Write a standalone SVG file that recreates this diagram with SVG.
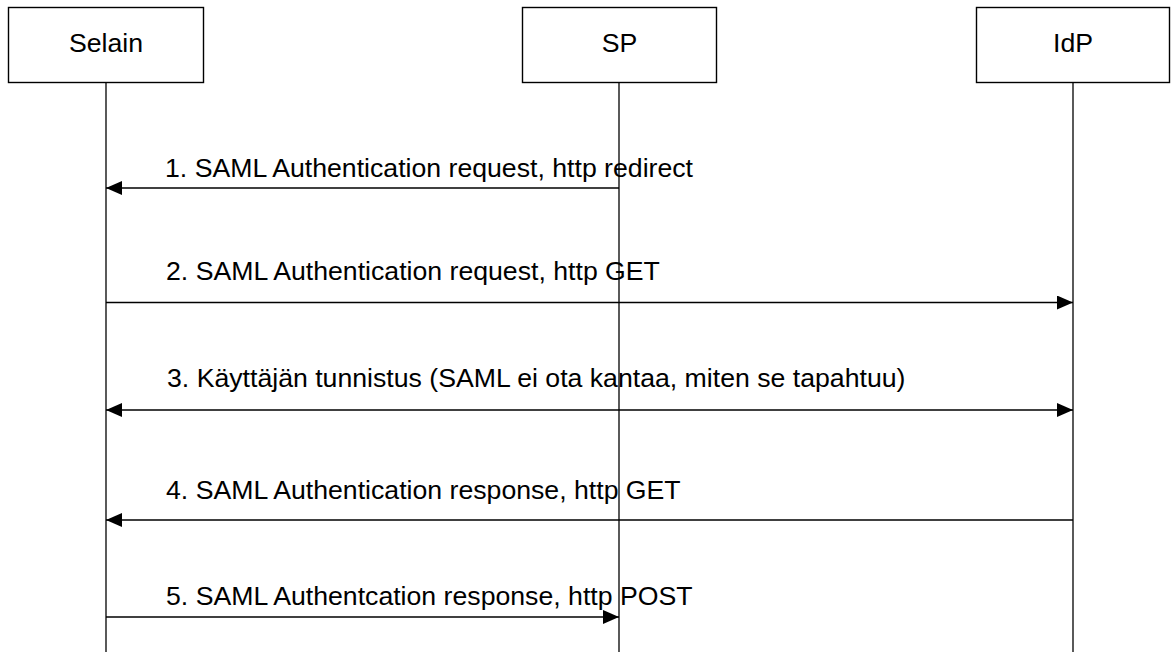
<svg xmlns="http://www.w3.org/2000/svg" width="1171" height="652" viewBox="0 0 1171 652">
<style>
.box{fill:#fff;stroke:#000;stroke-width:1.4}
.life{stroke:#000;stroke-width:1.3;fill:none}
.msg{stroke:#000;stroke-width:1.4;fill:none}
.t{font-family:"Liberation Sans",Arial,sans-serif;font-size:26.67px;fill:#000}
.lbl{font-family:"Liberation Sans",Arial,sans-serif;font-size:26.67px;fill:#000;text-anchor:middle}
</style>
<defs>
<marker id="ah" markerUnits="userSpaceOnUse" markerWidth="17" markerHeight="15" refX="16" refY="7" orient="auto-start-reverse">
<path d="M0,0 L16,7 L0,14 Z" fill="#000"/>
</marker>
</defs>
<rect width="1171" height="652" fill="#fff"/>
<g id="selain">
<rect class="box" x="8.5" y="7.5" width="195" height="75"/>
<text class="lbl" x="106" y="52">Selain</text>
<line class="life" x1="106" y1="82.5" x2="106" y2="652"/>
</g>
<g id="sp">
<rect class="box" x="522.5" y="7.5" width="194" height="75"/>
<text class="lbl" x="619.5" y="52">SP</text>
<line class="life" x1="619" y1="82.5" x2="619" y2="652"/>
</g>
<g id="idp">
<rect class="box" x="976.5" y="7.5" width="193" height="75"/>
<text class="lbl" x="1073" y="52">IdP</text>
<line class="life" x1="1073" y1="82.5" x2="1073" y2="652"/>
</g>
<g id="connectors">
<line class="msg" x1="619" y1="188" x2="106" y2="188" marker-end="url(#ah)"/>
<text class="t" x="165" y="177">1. SAML Authentication request, http redirect</text>
<line class="msg" x1="106" y1="302.5" x2="1073" y2="302.5" marker-end="url(#ah)"/>
<text class="t" x="166" y="280">2. SAML Authentication request, http GET</text>
<line class="msg" x1="106" y1="410" x2="1073" y2="410" marker-start="url(#ah)" marker-end="url(#ah)"/>
<text class="t" x="167" y="387">3. Käyttäjän tunnistus (SAML ei ota kantaa, miten se tapahtuu)</text>
<line class="msg" x1="1073" y1="520" x2="106" y2="520" marker-end="url(#ah)"/>
<text class="t" x="166" y="499">4. SAML Authentication response, http GET</text>
<line class="msg" x1="106" y1="617" x2="619" y2="617" marker-end="url(#ah)"/>
<text class="t" x="166" y="605">5. SAML Authentcation response, http POST</text>
</g>
</svg>
